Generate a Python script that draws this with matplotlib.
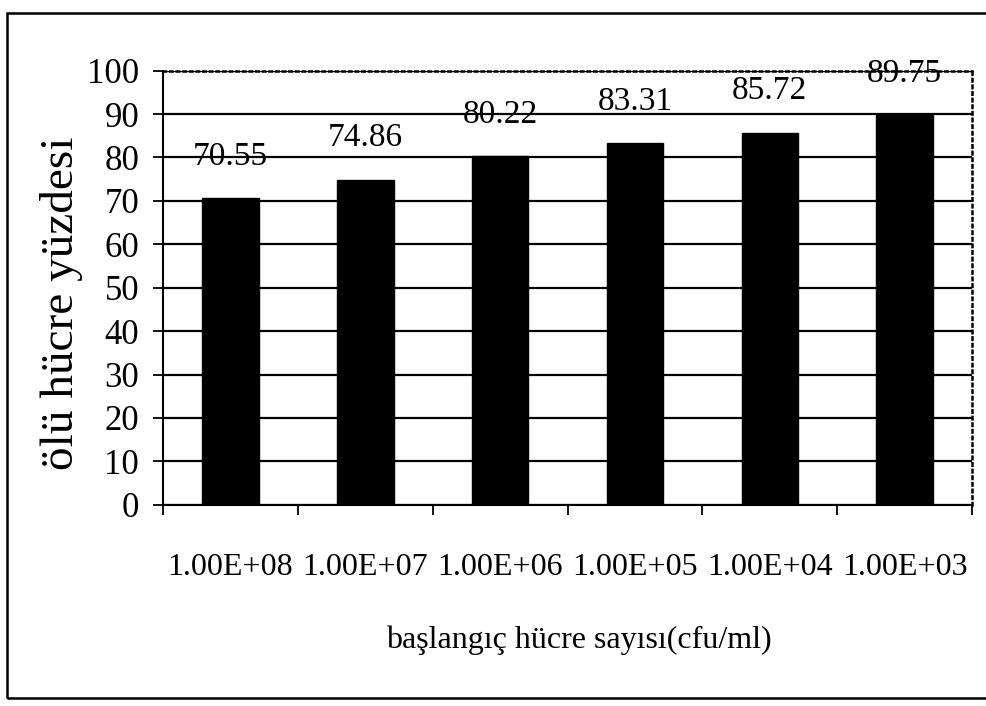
import numpy as np
import matplotlib.pyplot as plt
from matplotlib.patches import Rectangle

# başlangıç hücre sayısı ve ölü hücre yüzdeleri
kategoriler = ['1.00E+08', '1.00E+07', '1.00E+06', '1.00E+05', '1.00E+04', '1.00E+03']
oluler = [70.55, 74.86, 80.22, 83.31, 85.72, 89.75]
y_ticks = [0, 10, 20, 30, 40, 50, 60, 70, 80, 90, 100]

plt.rcParams['font.family'] = ['Liberation Serif', 'DejaVu Serif']

fig = plt.figure(figsize=(9.87, 7.06), dpi=100)
ax = fig.add_axes([0.165, 0.285, 0.82, 0.615])

x = np.arange(len(kategoriler))
ax.bar(x, oluler, width=0.42, color='black', edgecolor='black', zorder=3)

# etiketler çubukların üstünde
for xi, v in zip(x, oluler):
    ax.annotate(f'{v:.2f}', (xi, v), xytext=(0, 19), textcoords='offset points',
                ha='center', va='bottom', fontsize=24, zorder=4)

ax.set_xlim(-0.5, len(kategoriler) - 0.5)
ax.set_ylim(0, 100)
ax.set_yticks(y_ticks)
ax.tick_params(axis='y', labelsize=25, length=7, width=1.3, direction='out', pad=10)

# kategori isimleri ortada, tik çizgileri sınırlarda
ax.set_xticks(x)
ax.set_xticklabels(kategoriler, fontsize=23)
ax.tick_params(axis='x', which='major', length=0, pad=35)
ax.set_xticks(np.arange(len(kategoriler) + 1) - 0.5, minor=True)
ax.tick_params(axis='x', which='minor', length=7, width=1.3, direction='out')

ax.yaxis.grid(True, color='black', linewidth=1.6, linestyle='-')
ax.set_axisbelow(True)
ax.spines['left'].set_linewidth(1.5)
ax.spines['bottom'].set_linewidth(1.5)
for s in ['top', 'right']:
    ax.spines[s].set_linestyle(':')
    ax.spines[s].set_linewidth(1.8)

fig.text(62 / 987, 1 - 303 / 706, 'ölü hücre yüzdesi', rotation=90,
         ha='center', va='center', fontsize=34)
fig.text(579 / 987, 1 - 640 / 706, 'başlangıç hücre sayısı(cfu/ml)',
         ha='center', va='center', fontsize=23)

# dış çerçeve
fig.patches.append(Rectangle((7 / 987, 8 / 706), 1.2, 1 - 21 / 706,
                             transform=fig.transFigure, fill=False,
                             edgecolor='black', linewidth=1.8))

fig.savefig('out.png', dpi=100)
